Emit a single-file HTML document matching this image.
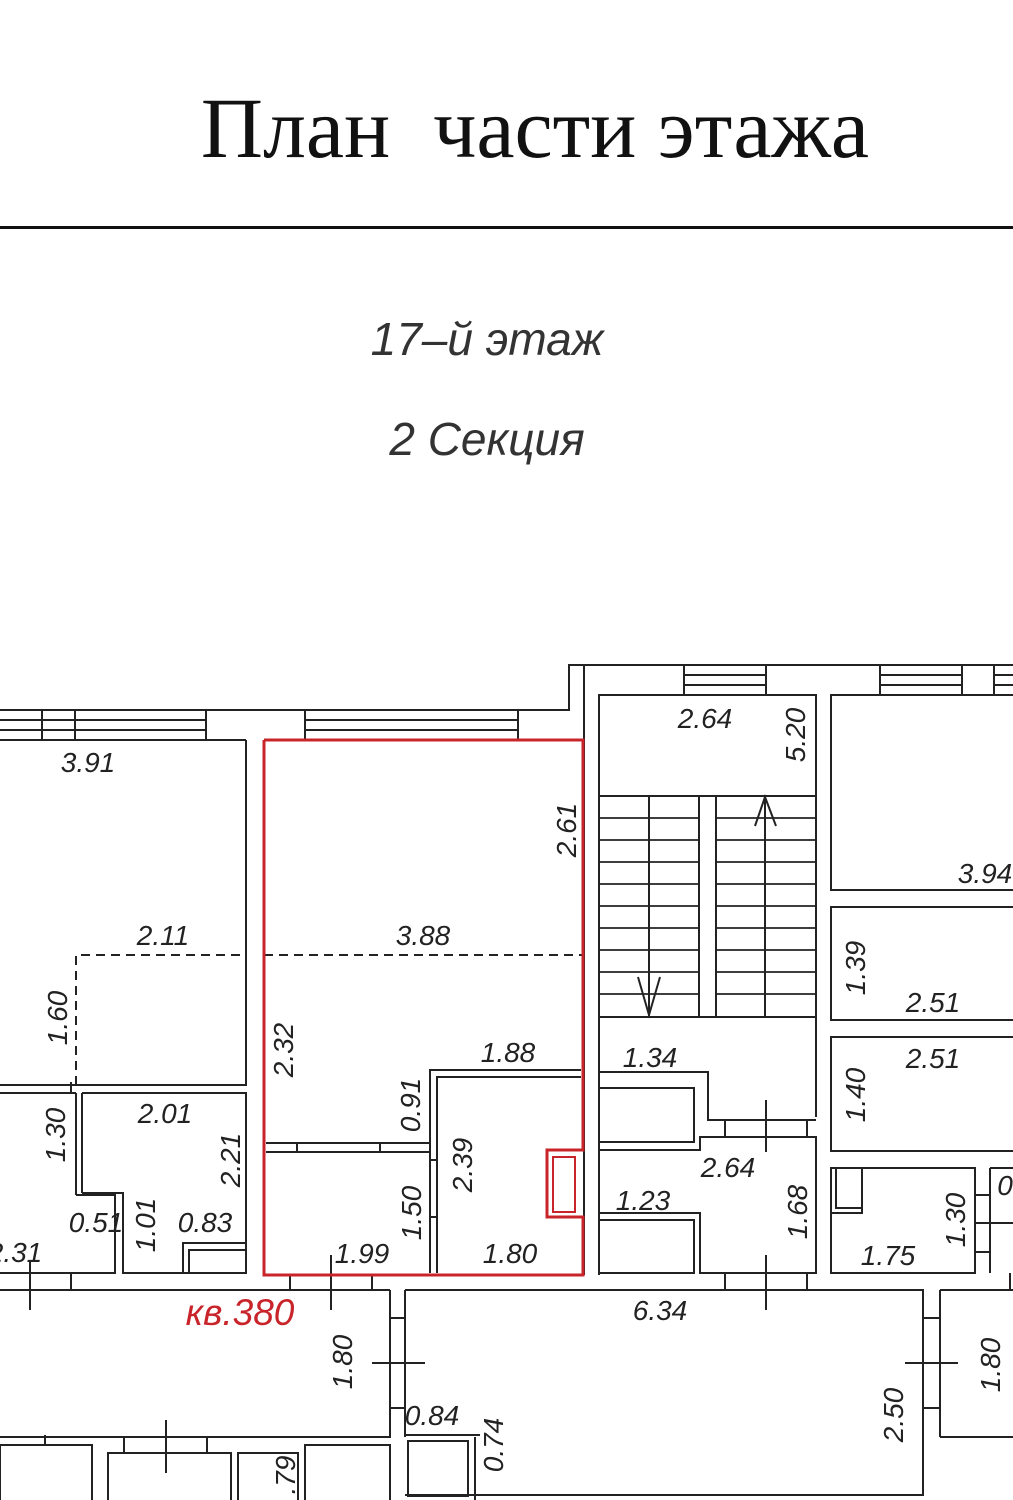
<!DOCTYPE html>
<html><head><meta charset="utf-8"><style>
html,body{margin:0;padding:0;background:#fff}
svg{display:block}
.t{font-family:"Liberation Sans",sans-serif;font-style:italic;font-size:28px;fill:#222;text-anchor:middle}
.r{font-family:"Liberation Sans",sans-serif;font-style:italic;font-size:28px;fill:#222;text-anchor:middle}
</style></head><body>
<svg width="1013" height="1500" viewBox="0 0 1013 1500" xmlns="http://www.w3.org/2000/svg">
<text x="535" y="157" font-family="Liberation Serif,serif" style="font-size:86px" text-anchor="middle" fill="#111">План&#160;&#160;части этажа</text>
<rect x="0" y="226" width="1013" height="3" fill="#111"/>
<text x="487" y="355" font-family="Liberation Sans,sans-serif" font-style="italic" style="font-size:46px" text-anchor="middle" fill="#333">17–й этаж</text>
<text x="487" y="455" font-family="Liberation Sans,sans-serif" font-style="italic" style="font-size:46px" text-anchor="middle" fill="#333">2 Секция</text>

<g fill="none" stroke="#222" stroke-width="2">
<polyline points="0,710 569,710 569,665 1013,665"/>
<line x1="0" y1="740" x2="246" y2="740"/>
<line x1="0" y1="720" x2="206" y2="720"/><line x1="0" y1="730" x2="206" y2="730"/>
<line x1="42" y1="710" x2="42" y2="740"/><line x1="75" y1="710" x2="75" y2="740"/><line x1="206" y1="710" x2="206" y2="740"/>
<line x1="305" y1="720" x2="518" y2="720"/><line x1="305" y1="730" x2="518" y2="730"/>
<line x1="305" y1="710" x2="305" y2="740"/><line x1="518" y1="710" x2="518" y2="740"/>
<line x1="684" y1="675" x2="766" y2="675"/><line x1="684" y1="685" x2="766" y2="685"/>
<line x1="684" y1="665" x2="684" y2="695"/><line x1="766" y1="665" x2="766" y2="695"/>
<line x1="880" y1="675" x2="962" y2="675"/><line x1="880" y1="685" x2="962" y2="685"/>
<line x1="880" y1="665" x2="880" y2="695"/><line x1="962" y1="665" x2="962" y2="695"/>
<line x1="994" y1="665" x2="994" y2="695"/><line x1="994" y1="675" x2="1013" y2="675"/><line x1="994" y1="685" x2="1013" y2="685"/>
<line x1="584" y1="665" x2="584" y2="1275"/>
<polyline points="246,740 246,1085 0,1085"/>
<polyline points="599,1072 599,695 816,695 816,1117"/>
<line x1="599" y1="796" x2="816" y2="796"/>
<line x1="599" y1="1017" x2="816" y2="1017"/>
<line x1="649" y1="796" x2="649" y2="1017"/><line x1="699" y1="796" x2="699" y2="1017"/>
<line x1="716" y1="796" x2="716" y2="1017"/><line x1="765" y1="796" x2="765" y2="1017"/>
<g stroke-width="1.8">
<line x1="599" y1="818" x2="699" y2="818"/><line x1="716" y1="818" x2="816" y2="818"/>
<line x1="599" y1="840" x2="699" y2="840"/><line x1="716" y1="840" x2="816" y2="840"/>
<line x1="599" y1="862" x2="699" y2="862"/><line x1="716" y1="862" x2="816" y2="862"/>
<line x1="599" y1="884" x2="699" y2="884"/><line x1="716" y1="884" x2="816" y2="884"/>
<line x1="599" y1="906" x2="699" y2="906"/><line x1="716" y1="906" x2="816" y2="906"/>
<line x1="599" y1="928" x2="699" y2="928"/><line x1="716" y1="928" x2="816" y2="928"/>
<line x1="599" y1="950" x2="699" y2="950"/><line x1="716" y1="950" x2="816" y2="950"/>
<line x1="599" y1="972" x2="699" y2="972"/><line x1="716" y1="972" x2="816" y2="972"/>
<line x1="599" y1="994" x2="699" y2="994"/><line x1="716" y1="994" x2="816" y2="994"/>
</g>
<polyline points="755,826 765,797 776,826"/>
<polyline points="638,977 649,1015 660,977"/>
<polyline points="599,1017 599,1072 708,1072 708,1120 816,1120"/>
<polyline points="1013,890 831,890 831,695 1013,695"/>
<polyline points="1013,907 831,907 831,1020 1013,1020"/>
<polyline points="1013,1037 831,1037 831,1151 1013,1151"/>
<rect x="599" y="1088" width="95" height="54"/>
<polyline points="599,1150 700,1150 700,1137 816,1137 816,1273 700,1273 700,1213 599,1213"/>
<rect x="599" y="1220" width="95" height="53"/>
<line x1="599" y1="1072" x2="599" y2="1275"/>
<polyline points="831,1168 975,1168 975,1273 831,1273 831,1168"/>
<rect x="831" y="1168" width="31" height="45"/><rect x="836" y="1168" width="26" height="40"/>
<line x1="990" y1="1168" x2="990" y2="1273"/><polyline points="1013,1168 990,1168"/>
<line x1="975" y1="1195" x2="990" y2="1195"/><line x1="975" y1="1252" x2="990" y2="1252"/>
<line x1="0" y1="1290" x2="390" y2="1290"/>
<polyline points="390,1290 390,1437 0,1437"/>
<line x1="405" y1="1290" x2="405" y2="1437"/>
<line x1="390" y1="1318" x2="405" y2="1318"/><line x1="390" y1="1408" x2="405" y2="1408"/>
<polyline points="405,1290 923,1290 923,1495 405,1495"/>
<line x1="940" y1="1290" x2="940" y2="1437"/><polyline points="1013,1290 940,1290"/>
<polyline points="940,1437 1013,1437"/>
<line x1="923" y1="1318" x2="940" y2="1318"/><line x1="923" y1="1408" x2="940" y2="1408"/>
<line x1="405" y1="1435" x2="480" y2="1435"/>
<rect x="408" y="1441" width="60" height="55"/>
<line x1="475" y1="1437" x2="475" y2="1500"/>
<line x1="76" y1="1093" x2="76" y2="1195"/><line x1="82" y1="1093" x2="82" y2="1193"/>
<polyline points="0,1093 76,1093"/><polyline points="82,1093 246,1093 246,1273 123,1273 123,1193 82,1193"/>
<polyline points="76,1195 115,1195 115,1273 0,1273"/>
<polyline points="183,1273 183,1243 246,1243"/><rect x="189" y="1250" width="57" height="23"/>
<line x1="71" y1="1082" x2="71" y2="1093"/>
<rect x="0" y="1445" width="92" height="60"/>
<rect x="108" y="1453" width="123" height="60"/>
<rect x="238" y="1453" width="60" height="60"/>
<rect x="305" y="1445" width="85" height="60"/>
<line x1="30" y1="1260" x2="30" y2="1310"/><line x1="71" y1="1273" x2="71" y2="1290"/>
<line x1="331" y1="1255" x2="331" y2="1310"/><line x1="290" y1="1275" x2="290" y2="1290"/><line x1="372" y1="1275" x2="372" y2="1290"/>
<line x1="372" y1="1363" x2="425" y2="1363"/>
<line x1="166" y1="1420" x2="166" y2="1473"/><line x1="124" y1="1437" x2="124" y2="1453"/><line x1="207" y1="1437" x2="207" y2="1453"/><line x1="45" y1="1435" x2="45" y2="1445"/>
<line x1="766" y1="1100" x2="766" y2="1152"/><line x1="725" y1="1120" x2="725" y2="1137"/><line x1="807" y1="1120" x2="807" y2="1137"/>
<line x1="766" y1="1255" x2="766" y2="1310"/><line x1="725" y1="1273" x2="725" y2="1290"/><line x1="807" y1="1273" x2="807" y2="1290"/>
<line x1="905" y1="1363" x2="958" y2="1363"/>
<line x1="975" y1="1223" x2="1013" y2="1223"/>
<line x1="1010" y1="1273" x2="1010" y2="1290"/>
</g>
<g fill="none" stroke="#222" stroke-width="2" stroke-dasharray="9,6">
<polyline points="76,1085 76,955 246,955"/>
<line x1="264" y1="955" x2="583" y2="955"/>
</g>
<g fill="none" stroke="#c8242a" stroke-width="3">
<polyline points="264,740 583,740 583,1150 547,1150 547,1217 583,1217 583,1275 264,1275 264,740"/>
<rect x="553" y="1157" width="22" height="55" stroke-width="2"/>
</g>
<g fill="none" stroke="#222" stroke-width="2">
<line x1="266" y1="1143" x2="430" y2="1143"/><line x1="266" y1="1152" x2="430" y2="1152"/>
<line x1="297" y1="1143" x2="297" y2="1152"/><line x1="380" y1="1143" x2="380" y2="1152"/>
<polyline points="430,1273 430,1070 581,1070"/><polyline points="437,1273 437,1077 581,1077"/>
<line x1="430" y1="1160" x2="437" y2="1160"/><line x1="430" y1="1217" x2="437" y2="1217"/>
</g>
<g class="t">
<text x="88" y="772">3.91</text>
<text x="163" y="945">2.11</text>
<text x="423" y="945">3.88</text>
<text x="508" y="1062">1.88</text>
<text x="165" y="1123">2.01</text>
<text x="96" y="1232">0.51</text>
<text x="205" y="1232">0.83</text>
<text x="15" y="1262">2.31</text>
<text x="362" y="1263">1.99</text>
<text x="510" y="1263">1.80</text>
<text x="432" y="1425">0.84</text>
<text x="660" y="1320">6.34</text>
<text x="705" y="728">2.64</text>
<text x="985" y="883">3.94</text>
<text x="933" y="1012">2.51</text>
<text x="933" y="1068">2.51</text>
<text x="650" y="1067">1.34</text>
<text x="728" y="1177">2.64</text>
<text x="643" y="1210">1.23</text>
<text x="888" y="1265">1.75</text>
<text x="1005" y="1195">0</text>
</g>
<g class="r">
<text transform="translate(576,830) rotate(-90)">2.61</text>
<text transform="translate(67,1018) rotate(-90)">1.60</text>
<text transform="translate(293,1050) rotate(-90)">2.32</text>
<text transform="translate(420,1105) rotate(-90)">0.91</text>
<text transform="translate(472,1165) rotate(-90)">2.39</text>
<text transform="translate(421,1213) rotate(-90)">1.50</text>
<text transform="translate(65,1135) rotate(-90)">1.30</text>
<text transform="translate(240,1160) rotate(-90)">2.21</text>
<text transform="translate(155,1225) rotate(-90)">1.01</text>
<text transform="translate(352,1362) rotate(-90)">1.80</text>
<text transform="translate(503,1445) rotate(-90)">0.74</text>
<text transform="translate(295,1475) rotate(-90)">.79</text>
<text transform="translate(903,1415) rotate(-90)">2.50</text>
<text transform="translate(1000,1365) rotate(-90)">1.80</text>
<text transform="translate(805,735) rotate(-90)">5.20</text>
<text transform="translate(865,968) rotate(-90)">1.39</text>
<text transform="translate(865,1095) rotate(-90)">1.40</text>
<text transform="translate(807,1212) rotate(-90)">1.68</text>
<text transform="translate(965,1220) rotate(-90)">1.30</text>
</g>
<text x="240" y="1325" font-family="Liberation Sans,sans-serif" font-style="italic" style="font-size:37px" fill="#c8242a" text-anchor="middle">кв.380</text>
</svg>
</body></html>
